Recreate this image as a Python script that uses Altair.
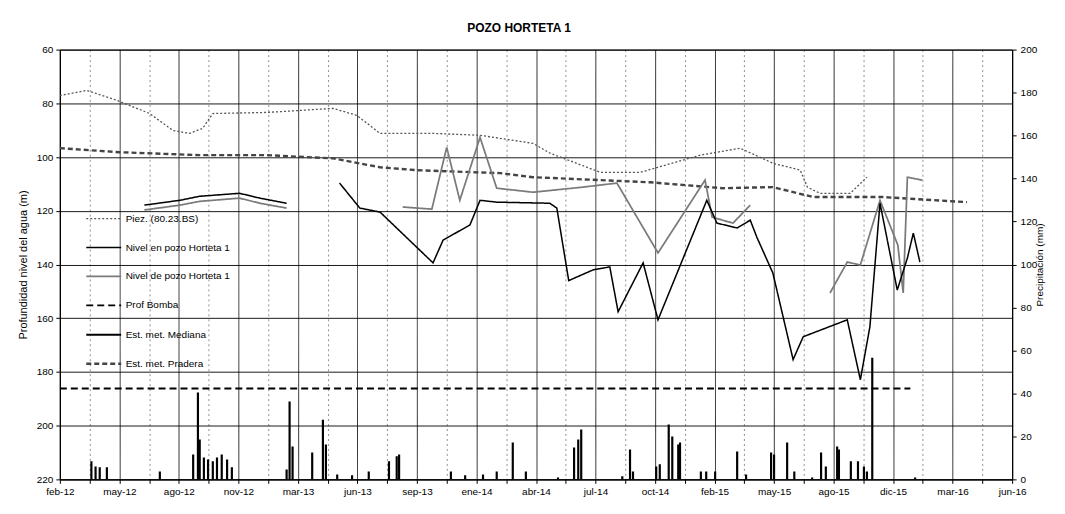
import json
import altair as alt
import pandas as pd

TITULO = "POZO HORTETA 1"
ORIGEN = "2012-02-01"
ETIQUETAS_X = ["feb-12", "may-12", "ago-12", "nov-12", "mar-13", "jun-13", "sep-13",
               "ene-14", "abr-14", "jul-14", "oct-14", "feb-15", "may-15", "ago-15",
               "dic-15", "mar-16", "jun-16"]
PASO_DIAS = 100
TICKS_PROF = [60, 80, 100, 120, 140, 160, 180, 200, 220]
TICKS_PCP = [0, 20, 40, 60, 80, 100, 120, 140, 160, 180, 200]

SERIES = ["Piez. (80.23.BS)", "Nivel en pozo Horteta 1", "Nivel de pozo Horteta 1",
          "Prof Bomba", "Est. met. Mediana", "Est. met. Pradera"]

# Serie: Nivel en pozo Horteta 1 (línea negra gruesa)
en_fechas = ["2012-06-22", "2012-08-21", "2012-09-23", "2012-11-29", "2013-01-02", "2013-02-16",
             "2013-05-16", "2013-06-19", "2013-07-23", "2013-10-20", "2013-11-06", "2013-12-21",
             "2014-01-07", "2014-02-04", "2014-05-04", "2014-05-16", "2014-06-05", "2014-07-16",
             "2014-08-13", "2014-08-27", "2014-10-08", "2014-11-02", "2015-01-23", "2015-02-09",
             "2015-03-15", "2015-04-06", "2015-04-17", "2015-05-14", "2015-06-17", "2015-07-04",
             "2015-09-16", "2015-10-08", "2015-10-24", "2015-11-10", "2015-12-09", "2015-12-26",
             "2016-01-05", "2016-01-16"]
en_prof = [117.9, 116.1, 114.6, 113.5, 115.3, 117.2,
           109.7, 119.0, 120.5, 139.4, 130.9, 125.3,
           116.1, 116.8, 117.2, 119.0, 146.0, 142.0,
           140.9, 157.6, 139.4, 160.6, 116.1, 124.6,
           126.4, 123.5, 129.8, 143.2, 175.4, 166.9,
           160.6, 182.9, 163.2, 117.2, 149.5, 137.6,
           128.3, 139.1]
en_tramo = [1] * 6 + [2] * 32

# Serie: Nivel de pozo Horteta 1 (línea gris gruesa)
de_fechas = ["2012-06-22", "2012-08-21", "2012-09-23", "2012-11-29", "2013-01-02", "2013-02-16",
             "2013-08-30", "2013-10-18", "2013-11-12", "2013-12-04", "2014-01-07", "2014-02-04",
             "2014-04-06", "2014-06-29", "2014-08-25", "2014-11-02", "2015-01-20", "2015-02-01",
             "2015-03-08", "2015-04-06",
             "2015-08-18", "2015-09-16", "2015-10-08", "2015-11-10", "2015-12-10", "2015-12-19",
             "2015-12-26", "2016-01-20"]
de_prof = [119.7, 117.9, 116.5, 115.3, 117.2, 119.0,
           118.6, 119.4, 96.4, 116.1, 92.7, 111.6,
           113.1, 111.2, 109.7, 135.7, 108.6, 122.4,
           124.6, 117.9,
           150.6, 139.1, 140.2, 116.1, 132.8, 150.6,
           107.5, 108.6]
de_tramo = [1] * 6 + [2] * 14 + [3] * 8

# Serie punteada superior
piez_fechas = ["2012-02-01", "2012-03-17", "2012-05-07", "2012-07-01", "2012-08-09", "2012-09-06",
               "2012-09-28", "2012-10-15", "2013-01-14", "2013-05-05", "2013-06-14", "2013-07-23",
               "2013-10-20", "2014-01-07", "2014-04-06", "2014-05-05", "2014-07-28", "2014-10-03",
               "2015-01-12", "2015-03-20", "2015-05-14", "2015-06-29", "2015-07-11", "2015-08-01",
               "2015-09-21", "2015-10-19"]
piez_prof = [77.1, 75.2, 78.9, 83.8, 90.1, 91.2,
             89.3, 83.8, 83.4, 81.9, 84.5, 91.2,
             91.2, 91.9, 94.9, 98.6, 105.7, 105.7,
             99.3, 96.7, 102.3, 104.9, 111.2, 113.5,
             113.5, 107.5]

# Serie discontinua superior
prad_fechas = ["2012-02-01", "2012-05-11", "2012-09-23", "2013-01-14", "2013-05-05", "2013-07-23",
               "2013-09-22", "2014-02-10", "2014-04-06", "2014-07-28", "2014-10-20", "2015-02-19",
               "2015-05-14", "2015-07-21", "2015-11-15", "2016-04-04"]
prad_prof = [96.7, 98.2, 99.3, 99.3, 100.5, 103.8,
             104.9, 106.0, 107.5, 108.6, 109.4, 111.6,
             111.2, 114.9, 114.9, 116.8]

# Profundidad de la bomba
bomba_fechas = ["2012-02-01", "2015-12-31"]
bomba_prof = [186.2, 186.2]

# Precipitación (eje derecho, mm)
pcp_fechas = ["2012-03-25", "2012-04-01", "2012-04-08", "2012-04-20", "2012-07-18", "2012-09-12",
              "2012-09-20", "2012-09-23", "2012-09-30", "2012-10-07", "2012-10-15", "2012-10-22",
              "2012-10-30", "2012-11-08", "2012-11-16", "2013-02-16", "2013-02-21", "2013-02-26",
              "2013-03-31", "2013-04-18", "2013-04-23", "2013-05-12", "2013-06-06", "2013-07-04",
              "2013-08-07", "2013-08-20", "2013-08-24", "2013-11-19", "2013-12-13", "2014-01-12",
              "2014-02-04", "2014-03-03", "2014-03-25", "2014-05-18", "2014-06-14", "2014-06-21",
              "2014-06-26", "2014-09-03", "2014-09-16", "2014-09-21", "2014-10-30", "2014-11-05",
              "2014-11-20", "2014-11-26", "2014-12-06", "2014-12-09", "2015-01-13", "2015-01-22",
              "2015-02-06", "2015-03-15", "2015-03-30", "2015-05-11", "2015-05-16", "2015-06-07",
              "2015-06-19", "2015-07-19", "2015-08-03", "2015-08-11", "2015-08-30", "2015-09-02",
              "2015-09-22", "2015-10-04", "2015-10-14", "2015-10-19", "2015-10-28", "2016-01-08"]
pcp_mm = [8.4, 6.0, 5.6, 5.6, 3.7, 11.6,
          40.4, 18.6, 10.2, 9.3, 8.4, 10.2,
          11.6, 9.3, 5.6, 4.6, 36.2, 15.3,
          12.5, 27.8, 16.2, 2.3, 1.9, 3.7,
          8.4, 10.7, 11.6, 3.7, 1.9, 2.3,
          3.7, 17.2, 3.7, 0.9, 14.8, 18.6,
          23.2, 1.4, 13.9, 3.7, 6.0, 7.0,
          25.5, 20.0, 16.2, 17.2, 3.7, 3.7,
          3.7, 13.0, 2.3, 12.5, 11.6, 17.2,
          3.7, 0.9, 12.5, 6.0, 15.3, 13.9,
          8.4, 8.4, 6.0, 3.7, 56.6, 0.9]

COLORES = ["#555555", "#000000", "#7a7a7a", "#000000", "#000000", "#444444"]
DASH = [[2, 2], [1, 0], [1, 0], [7, 4], [1, 0], [5, 3]]
ANCHOS = [1.3, 2.4, 3.0, 3.0, 1.4, 1.1]

origen = pd.Timestamp(ORIGEN)


def dias(fechas):
    return [(pd.Timestamp(f) - origen).days for f in fechas]


filas = []
for serie, fechas, prof, tramos in [
    (SERIES[0], piez_fechas, piez_prof, [1] * len(piez_fechas)),
    (SERIES[5], prad_fechas, prad_prof, [1] * len(prad_fechas)),
    (SERIES[3], bomba_fechas, bomba_prof, [1, 1]),
    (SERIES[2], de_fechas, de_prof, de_tramo),
    (SERIES[1], en_fechas, en_prof, en_tramo),
]:
    for d, p, t in zip(dias(fechas), prof, tramos):
        filas.append({"dia": d, "prof": p, "serie": serie, "tramo": f"{serie}-{t}"})
df_lineas = pd.DataFrame(filas)

df_pcp = pd.DataFrame({"dia": dias(pcp_fechas), "mm": pcp_mm, "cero": 0, "serie": SERIES[4]})

FUENTE = "Liberation Sans"
fin = PASO_DIAS * (len(ETIQUETAS_X) - 1)
valores_x = list(range(0, fin + 1, PASO_DIAS // 2))
label_expr = ("datum.value % " + str(PASO_DIAS) + " == 0 ? " + json.dumps(ETIQUETAS_X)
              + "[round(datum.value / " + str(PASO_DIAS) + ")] : ''")

x_enc = alt.X(
    "dia:Q",
    scale=alt.Scale(domain=[0, fin], nice=False, zero=False),
    axis=alt.Axis(
        values=valores_x, labelExpr=label_expr, title=None, labelOverlap=False,
        labelFlush=False, grid=True, gridColor="#000000", gridWidth=0.8,
        gridDash={"condition": {"test": f"datum.value % {PASO_DIAS} != 0", "value": [2, 3]},
                  "value": [1, 0]},
        gridOpacity={"condition": {"test": f"datum.value % {PASO_DIAS} != 0", "value": 0.55},
                     "value": 1},
        tickSize=4, labelPadding=3, labelFontSize=10, labelColor="#000000",
        domainColor="#000000", tickColor="#000000",
    ),
)

color_enc = alt.Color("serie:N", scale=alt.Scale(domain=SERIES, range=COLORES), title=None)
dash_enc = alt.StrokeDash("serie:N", scale=alt.Scale(domain=SERIES, range=DASH), title=None)
width_enc = alt.StrokeWidth("serie:N", scale=alt.Scale(domain=SERIES, range=ANCHOS), title=None)

capa_pcp = alt.Chart(df_pcp).mark_rule().encode(
    x=x_enc,
    y=alt.Y("mm:Q", scale=alt.Scale(domain=[0, 200], nice=False),
            axis=alt.Axis(orient="right", values=TICKS_PCP, title="Precipitación (mm)",
                          grid=False, titleAngle=270, titlePadding=8, labelFontSize=10,
                          titleFontSize=10, labelColor="#000000", tickColor="#000000",
                          domainColor="#000000", tickSize=4, labelPadding=4)),
    y2="cero:Q",
    color=color_enc, strokeDash=dash_enc, strokeWidth=width_enc,
)

capa_lineas = alt.Chart(df_lineas).mark_line(clip=True).encode(
    x=x_enc,
    y=alt.Y("prof:Q", scale=alt.Scale(domain=[60, 220], reverse=True, nice=False, zero=False),
            axis=alt.Axis(values=TICKS_PROF, title="Profundidad nivel del agua (m)",
                          grid=True, gridColor="#000000", gridWidth=0.9,
                          labelFontSize=10, titleFontSize=11, labelColor="#000000",
                          tickColor="#000000", domainColor="#000000", tickSize=4,
                          labelPadding=3, titlePadding=8)),
    color=color_enc, strokeDash=dash_enc, strokeWidth=width_enc,
    detail="tramo:N",
)

chart = alt.layer(capa_pcp, capa_lineas).resolve_scale(y="independent").properties(
    width=955, height=431,
    title=alt.TitleParams(TITULO, fontSize=12, fontWeight="bold", font=FUENTE, offset=10,
                          dx=-17, color="#000000"),
    autosize=alt.AutoSizeParams(type="none"),
    padding={"left": 52, "top": 41, "right": 45, "bottom": 28},
).configure(font=FUENTE).configure_view(
    stroke="#000000", strokeWidth=1
).configure_axis(
    labelFont=FUENTE, titleFont=FUENTE, titleColor="#000000", titleFontWeight="normal"
).configure_legend(
    orient="none", legendX=25, legendY=151, symbolType="stroke", symbolSize=1225,
    labelFontSize=10, labelFont=FUENTE, labelColor="#000000", rowPadding=5,
    labelOffset=3, labelLimit=200, padding=0,
)

chart.save("out.html", embed_options={"renderer": "svg", "actions": False})
